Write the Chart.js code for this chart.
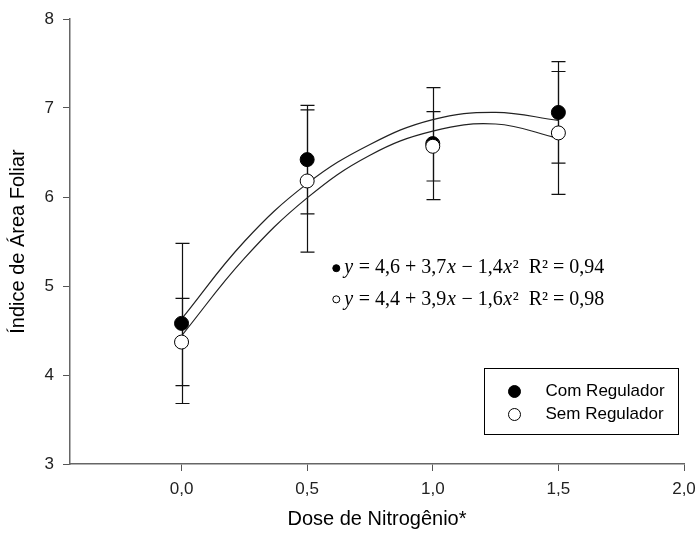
<!DOCTYPE html>
<html>
<head>
<meta charset="utf-8">
<script src="https://cdn.jsdelivr.net/npm/chart.js@4.4.1/dist/chart.umd.min.js"></script>
<style>
  html, body { margin: 0; padding: 0; background: #fff; }
</style>
</head>
<body>
<canvas id="chart" width="696" height="534"></canvas>
<script>
// dados
var doses = [0, 0.5, 1.0, 1.5];
var comRegulador = [4.58, 6.42, 6.60, 6.95];
var comErro = [0.90, 0.61, 0.63, 0.57];
var semRegulador = [4.37, 6.18, 6.57, 6.72];
var semErro = [0.49, 0.80, 0.39, 0.69];

// curvas ajustadas
var curvaX = [0, 0.25, 0.5, 0.75, 1.0, 1.25, 1.5];
var curvaCom = [4.63, 5.50, 6.15, 6.59, 6.87, 6.95, 6.86];
var curvaSem = [4.44, 5.31, 5.99, 6.47, 6.74, 6.82, 6.66];

var xTicks = [0, 0.5, 1.0, 1.5, 2.0];
var xTickLabels = ['0,0', '0,5', '1,0', '1,5', '2,0'];
var yTicks = [3, 4, 5, 6, 7, 8];

var equacoes = [
    [{t: 'y', i: true}, {t: ' = 4,6 + 3,7'}, {t: 'x', i: true}, {t: ' \u2212 1,4'}, {t: 'x', i: true}, {t: '\u00b2  R\u00b2 = 0,94'}],
    [{t: 'y', i: true}, {t: ' = 4,4 + 3,9'}, {t: 'x', i: true}, {t: ' \u2212 1,6'}, {t: 'x', i: true}, {t: '\u00b2  R\u00b2 = 0,98'}]
];

var sans = '"Liberation Sans", Arial, sans-serif';
var serif = '"Liberation Serif", "Times New Roman", serif';

function pts(xs, ys) {
    return xs.map(function(x, i) { return {x: x, y: ys[i]}; });
}

var errorBars = {
    id: 'errorBars',
    beforeDatasetsDraw: function(chart) {
        var ctx = chart.ctx, xs = chart.scales.x, ys = chart.scales.y;
        ctx.save();
        ctx.strokeStyle = '#111';
        ctx.lineWidth = 1.2;
        [[comRegulador, comErro], [semRegulador, semErro]].forEach(function(s) {
            doses.forEach(function(d, i) {
                var px = Math.round(xs.getPixelForValue(d)) + 0.5;
                var top = ys.getPixelForValue(s[0][i] + s[1][i]);
                var bot = ys.getPixelForValue(s[0][i] - s[1][i]);
                ctx.beginPath();
                ctx.moveTo(px, top); ctx.lineTo(px, bot);
                ctx.moveTo(px - 7, top); ctx.lineTo(px + 7, top);
                ctx.moveTo(px - 7, bot); ctx.lineTo(px + 7, bot);
                ctx.stroke();
            });
        });
        ctx.restore();
    }
};

var extras = {
    id: 'extras',
    afterDraw: function(chart) {
        var ctx = chart.ctx, xs = chart.scales.x, ys = chart.scales.y;
        ctx.save();
        // equacoes
        ctx.textBaseline = 'middle';
        ctx.fillStyle = '#000';
        var ex = xs.getPixelForValue(0.6);
        var eys = [ys.getPixelForValue(5.20), ys.getPixelForValue(4.85)];
        equacoes.forEach(function(parts, k) {
            var y = eys[k];
            ctx.beginPath();
            ctx.arc(ex + 4, y, 3.5, 0, Math.PI * 2);
            ctx.fillStyle = k === 0 ? '#000' : '#fff';
            ctx.fill();
            ctx.strokeStyle = '#000';
            ctx.lineWidth = 1;
            ctx.stroke();
            ctx.fillStyle = '#000';
            var x = ex + 12;
            parts.forEach(function(p) {
                ctx.font = (p.i ? 'italic ' : '') + '20px ' + serif;
                ctx.fillText(p.t, x, y);
                x += ctx.measureText(p.t).width + 0.6;
            });
        });
        // legenda
        var a = chart.chartArea;
        var bx = a.right - 199.5, by = a.bottom - 95.5, bw = 194, bh = 66;
        ctx.strokeStyle = '#000';
        ctx.lineWidth = 1;
        ctx.strokeRect(bx, by, bw, bh);
        ctx.font = '17px ' + sans;
        ctx.textAlign = 'left';
        [2, 3].forEach(function(di, k) {
            var ds = chart.data.datasets[di];
            var cy = by + 23 + k * 23;
            ctx.beginPath();
            ctx.arc(bx + 30, cy, 6, 0, Math.PI * 2);
            ctx.fillStyle = ds.backgroundColor;
            ctx.fill();
            ctx.strokeStyle = '#000';
            ctx.stroke();
            ctx.fillStyle = '#000';
            ctx.fillText(ds.label, bx + 61, cy);
        });
        ctx.restore();
    }
};

var chart = new Chart(document.getElementById('chart').getContext('2d'), {
    type: 'scatter',
    data: {
        datasets: [{
            type: 'line',
            label: 'Curva Com',
            data: pts(curvaX, curvaCom),
            borderColor: '#222',
            borderWidth: 1.2,
            pointRadius: 0,
            tension: 0.4,
            fill: false,
            order: 3
        }, {
            type: 'line',
            label: 'Curva Sem',
            data: pts(curvaX, curvaSem),
            borderColor: '#222',
            borderWidth: 1.2,
            pointRadius: 0,
            tension: 0.4,
            fill: false,
            order: 3
        }, {
            label: 'Com Regulador',
            data: pts(doses, comRegulador),
            backgroundColor: '#000',
            borderColor: '#000',
            borderWidth: 1,
            pointRadius: 7,
            order: 2
        }, {
            label: 'Sem Regulador',
            data: pts(doses, semRegulador),
            backgroundColor: '#fff',
            borderColor: '#000',
            borderWidth: 1,
            pointRadius: 7,
            order: 1
        }]
    },
    options: {
        responsive: false,
        animation: false,
        layout: { padding: { top: 19, right: 12, left: 0, bottom: 0 } },
        plugins: {
            legend: { display: false },
            tooltip: { enabled: false }
        },
        scales: {
            x: {
                type: 'linear',
                min: -0.444,
                max: 2.0,
                afterBuildTicks: function(s) { s.ticks = xTicks.map(function(v) { return {value: v}; }); },
                afterFit: function(s) { s.height = 70; s.paddingRight = 0; s.paddingLeft = 0; },
                ticks: {
                    color: '#222',
                    font: { family: sans, size: 17 },
                    padding: 8,
                    maxRotation: 0,
                    callback: function(v) { var i = xTicks.indexOf(v); return i >= 0 ? xTickLabels[i] : ''; }
                },
                grid: { drawOnChartArea: false, drawTicks: true, tickLength: 7, color: '#555' },
                border: { display: true, color: '#666', width: 1.5 },
                title: {
                    display: true,
                    text: 'Dose de Nitrog\u00eanio*',
                    color: '#000',
                    font: { family: sans, size: 20 },
                    padding: { top: 0, bottom: 3 }
                }
            },
            y: {
                min: 3,
                max: 8,
                afterBuildTicks: function(s) { s.ticks = yTicks.map(function(v) { return {value: v}; }); },
                afterFit: function(s) { s.width = 70; s.paddingTop = 0; s.paddingBottom = 0; },
                ticks: {
                    color: '#222',
                    font: { family: sans, size: 17 },
                    padding: 9
                },
                grid: { drawOnChartArea: false, drawTicks: true, tickLength: 7, color: '#555' },
                border: { display: true, color: '#666', width: 1.5 },
                title: {
                    display: true,
                    text: '\u00cdndice de \u00c1rea Foliar',
                    color: '#000',
                    font: { family: sans, size: 20 },
                    padding: { top: 6, bottom: 0 }
                }
            }
        }
    },
    plugins: [errorBars, extras]
});
</script>
</body>
</html>
